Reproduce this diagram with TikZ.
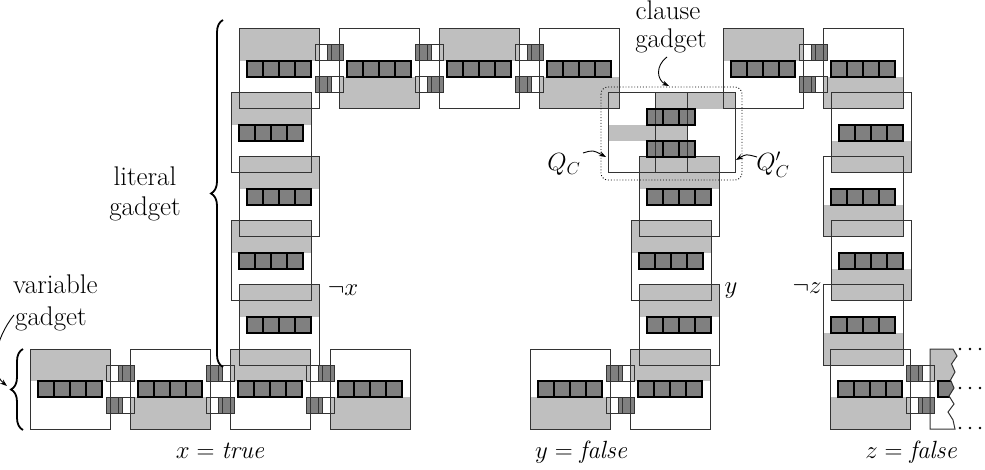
\documentclass[tikz,border=0pt]{standalone}
\usetikzlibrary{arrows.meta,decorations.pathreplacing}
\definecolor{shadegray}{gray}{0.75}
\definecolor{bardark}{gray}{0.5}
\definecolor{edgegray}{gray}{0.2}
\tikzset{
  lbl/.style={font=\fontsize{27}{30}\selectfont, inner sep=0pt},
  outl/.style={draw=edgegray, line width=1pt},
  barsq/.style={draw=black, line width=1.1pt},
  arr/.style={-{Stealth[length=7pt,width=5pt]}, line width=0.9pt},
  brc/.style={decorate, decoration={brace, amplitude=12pt}, line width=1.8pt},
}
\begin{document}
\begin{tikzpicture}[x=1pt,y=-1pt]
\useasboundingbox (0,0) rectangle (985,470);
% blocks: x / y / offset of gray band (0 = top, 48 = bottom)
\def\blocks{30/349/0, 130/349/48, 230/349/0, 330/349/48, 530/349/48, 630/349/0, 830/349/48,
  239/285/0, 231/221/0, 239/157/0, 231/93/0,
  239/29/0, 339/29/48, 439/29/0, 539/29/48, 723/29/0, 823/29/48,
  639/285/0, 631/221/0, 639/157/0,
  823/285/48, 831/221/48, 823/157/48, 831/93/48}
% connectors: gap centre / y / side of upper dark square (1 right, -1 left)
\def\conns{120.5/349/1, 220.5/349/-1, 320.5/349/1, 620.5/349/-1, 920.5/349/-1,
  329.5/29/1, 429.5/29/-1, 529.5/29/1, 813/29/1}
% ---------- pass 1: light fills
\foreach \bx/\by/\go in \blocks {
  \fill[shadegray] (\bx,{\by+\go}) rectangle ++(80,32);
}
\fill[shadegray] (655,93) rectangle (687,173);
\fill[shadegray] (655,93) rectangle (735,109);
\fill[shadegray] (608,125) rectangle (655,141);
% ---------- pass 2: dark fills
\foreach \bx/\by/\go in \blocks {
  \fill[bardark] ({\bx+8},{\by+32}) rectangle ++(64,16);
}
\foreach \g/\cy/\dd in \conns {
  \fill[bardark] ({\g-8+6*\dd},{\cy+16}) rectangle ++(16,16);
  \fill[bardark] ({\g-8-6*\dd},{\cy+48}) rectangle ++(16,16);
}
\fill[bardark] (647,109) rectangle (695,125);
\fill[bardark] (647,141) rectangle (695,157);
% partial block at the right edge
\begin{scope}
  \clip (930,349) -- (953,349) -- (957,356) -- (951.5,364) -- (955,372) -- (950.5,380)
    -- (954,388) -- (949,396) -- (954,404) -- (948,412) -- (953,420) -- (955,429)
    -- (930,429) -- cycle;
  \fill[shadegray] (930,349) rectangle (965,381);
  \fill[bardark] (938,381) rectangle (965,397);
  \draw[barsq] (938,381) rectangle (965,397);
\end{scope}
\draw[outl] (930,349) -- (953,349) -- (957,356) -- (951.5,364) -- (955,372) -- (950.5,380)
    -- (954,388) -- (949,396) -- (954,404) -- (948,412) -- (953,420) -- (955,429)
    -- (930,429) -- cycle;
% ---------- pass 3: outlines
\foreach \bx/\by/\go in \blocks {
  \draw[outl] (\bx,\by) rectangle ++(80,80);
}
\foreach \g/\cy/\dd in \conns {
  \draw[outl] ({\g-14},{\cy+16}) rectangle ++(16,16);
  \draw[outl] ({\g-2},{\cy+16}) rectangle ++(16,16);
  \draw[outl] ({\g-14},{\cy+48}) rectangle ++(16,16);
  \draw[outl] ({\g-2},{\cy+48}) rectangle ++(16,16);
}
\foreach \bx/\by/\go in \blocks {
  \foreach \i in {0,1,2,3} {
    \draw[barsq] ({\bx+8+16*\i},{\by+32}) rectangle ++(16,16);
  }
}
% clause gadget
\draw[outl] (608,93) rectangle (735,173);
\draw[outl] (655,93) rectangle (687,173);
\foreach \i in {0,1,2} {
  \draw[barsq] ({647+16*\i},109) rectangle ++(16,16);
  \draw[barsq] ({647+16*\i},141) rectangle ++(16,16);
}
\draw[dotted, line width=0.9pt, rounded corners=7pt] (601,87) rectangle (742,180);
% dots at the right
\foreach \py in {349,388,428} {
  \foreach \px in {960,970,980} {
    \fill (\px,\py) circle (1.3pt);
  }
}
% ---------- labels
\node[lbl, anchor=base] (cl1) at (668,20) {clause};
\node[lbl, anchor=base] (cl2) at (671,48) {gadget};
\node[lbl, anchor=base] (lit1) at (145,186) {literal};
\node[lbl, anchor=base] (lit2) at (145,216) {gadget};
\node[lbl, anchor=base west] (var1) at (13,294) {variable};
\node[lbl, anchor=base west] (var2) at (15,325) {gadget};
\node[lbl, anchor=base] (qc) at (564,171) {$Q_C$};
\node[lbl, anchor=base] (qcp) at (773,171) {$Q'_C$};
\node[lbl, anchor=base] (nx) at (343,295) {$\neg x$};
\node[lbl, anchor=base] (ly) at (731,294) {$y$};
\node[lbl, anchor=base] (nz) at (807,294) {$\neg z$};
\node[lbl, anchor=base] (xv) at (221,458) {$x = \mathit{true}$};
\node[lbl, anchor=base] (yv) at (582,458) {$y = \mathit{false}$};
\node[lbl, anchor=base] (zv) at (912,458) {$z = \mathit{false}$};
% ---------- arrows and braces
\coordinate (clS) at (667,57);
\coordinate (clE) at (669,86);
\draw[arr] (clS) .. controls (655,66) and (657,80) .. (clE);
\coordinate (qcS) at (583,153);
\coordinate (qcE) at (606,157);
\draw[arr] (qcS) .. controls (593,150) .. (qcE);
\coordinate (qcpS) at (757,157);
\coordinate (qcpE) at (736,160);
\draw[arr] (qcpS) .. controls (746,154) .. (qcpE);
\coordinate (varS) at (14,315);
\coordinate (varE) at (7,386);
\draw[arr] (varS) .. controls (-6,340) and (-10,372) .. (varE);
\coordinate (litB) at (223,367);
\coordinate (litT) at (223,20);
\draw[brc] (litB) -- (litT);
\coordinate (varB) at (23,430);
\coordinate (varT) at (23,349);
\draw[brc] (varB) -- (varT);
\end{tikzpicture}
\end{document}
